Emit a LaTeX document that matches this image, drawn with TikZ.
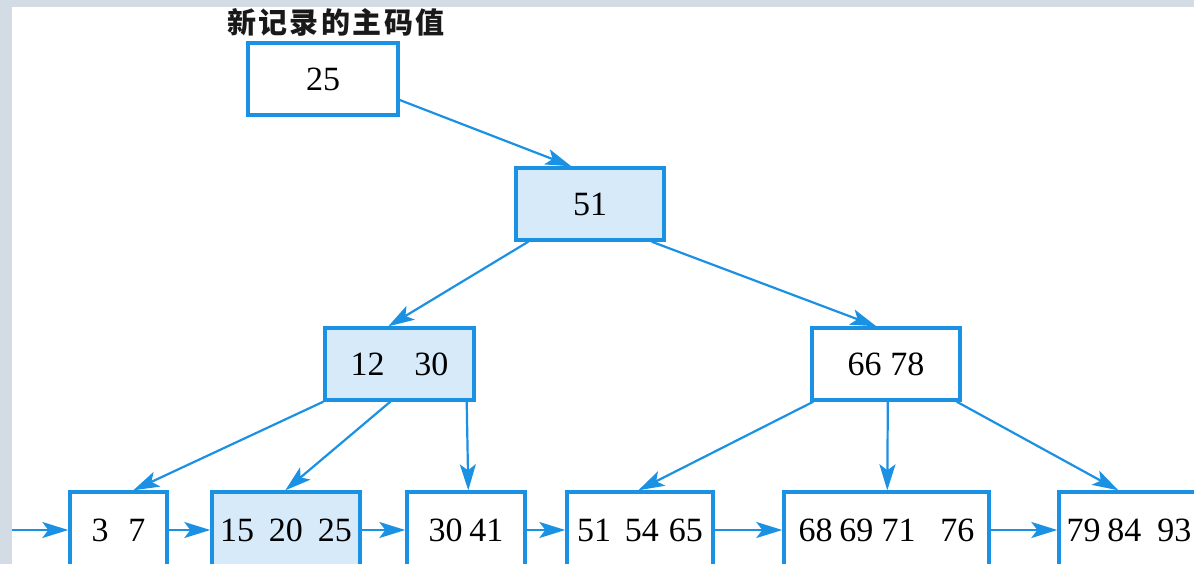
\documentclass[tikz,border=0pt]{standalone}
\usepackage{fontspec}
\setmainfont{Liberation Serif}
\newfontfamily\cjk{Noto Sans CJK SC}
\usetikzlibrary{arrows.meta,calc}
\definecolor{bblue}{RGB}{27,145,228}
\definecolor{lfill}{RGB}{214,234,250}
\definecolor{bggray}{RGB}{211,220,229}
\newcommand{\tsp}{\hspace{2.5pt}}
\begin{document}
\begin{tikzpicture}[x=1pt,y=-1pt,
  box/.style={draw=bblue, line width=3.4pt, fill=white, minimum height=72pt, inner sep=0pt,
    font=\fontsize{34}{34}\selectfont},
  leaf/.style={box, minimum height=76pt},
  hot/.style={fill=lfill},
  arr/.style={draw=bblue, line width=2.2pt, -{Stealth[length=26pt,width=16pt,inset=6pt]}}]
\useasboundingbox (0,0) rectangle (1194,564);
\clip (0,0) rectangle (1194,564);
\fill[bggray] (0,0) rectangle (1194,564);
\fill[white] (12,7) rectangle (1194,564);
% title
\node[font=\cjk\bfseries\fontsize{29}{29}\selectfont, text=black!90] (title) at (336,22) {新\tsp 记\tsp 录\tsp 的\tsp 主\tsp 码\tsp 值};
% inner nodes
\node[box, minimum width=150pt] (b25) at (323,79) {25};
\node[box, hot, minimum width=148pt] (b51) at (590,204) {51};
\node[box, hot, minimum width=149pt] (b1230) at (399.5,364) {12\hspace{30pt}30};
\node[box, minimum width=148pt] (b6678) at (886,364) {66\hspace{9pt}78};
% leaves
\node[leaf, minimum width=97pt] (b37) at (118.5,530) {3\hspace{20pt}7};
\node[leaf, hot, minimum width=148pt] (b152025) at (286,530) {15\hspace{15pt}20\hspace{15pt}25};
\node[leaf, minimum width=118pt] (b3041) at (466,530) {30\hspace{7pt}41};
\node[leaf, minimum width=146pt] (b515465) at (640,530) {51\hspace{14pt}54\hspace{10pt}65};
\node[leaf, minimum width=205pt] (b68) at (886.5,530) {68\hspace{7pt}69\hspace{8pt}71\hspace{25pt}76};
\node[leaf, minimum width=140pt] (b79) at (1129,530) {79\hspace{7pt}84\hspace{16pt}93};
\coordinate (in) at (12,530);
% tree connectors
\draw[arr] ($(b25.east)+(0,21)$) -- ($(b51.north west)+(57,0)$);
\draw[arr] ($(b51.south west)+(14,0)$) -- ($(b1230.north west)+(65,0)$);
\draw[arr] ($(b51.south east)+(-14,0)$) -- ($(b6678.north west)+(66,0)$);
\draw[arr] (b1230.south west) -- ($(b37.north west)+(65,0)$);
\draw[arr] ($(b1230.south west)+(67,0)$) -- ($(b152025.north west)+(75,0)$);
\draw[arr] ($(b1230.south east)+(-9,0)$) -- ($(b3041.north west)+(63,0)$);
\draw[arr] ($(b6678.south west)+(3,0)$) -- ($(b515465.north west)+(73,0)$);
\draw[arr] ($(b6678.south west)+(77.5,0)$) -- ($(b68.north west)+(105,0)$);
\draw[arr] ($(b6678.south east)+(-5,0)$) -- ($(b79.north west)+(61,0)$);
% leaf chain
\draw[arr] (in) -- (b37.west);
\draw[arr] (b37.east) -- (b152025.west);
\draw[arr] (b152025.east) -- (b3041.west);
\draw[arr] (b3041.east) -- (b515465.west);
\draw[arr] (b515465.east) -- (b68.west);
\draw[arr] (b68.east) -- (b79.west);
\end{tikzpicture}
\end{document}
